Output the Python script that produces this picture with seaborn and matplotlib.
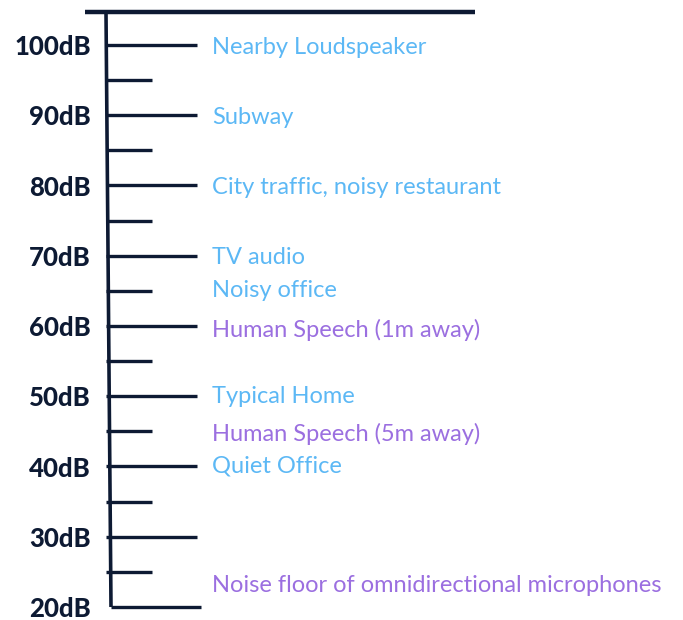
import matplotlib
matplotlib.use("Agg")
import matplotlib.pyplot as plt
import seaborn as sns

sns.set_theme(style="white")
plt.rcParams['font.family'] = ['Lato', 'DejaVu Sans']

# Data

major_db = [100, 90, 80, 70, 60, 50, 40, 30, 20]
major_labels = ["100dB", "90dB", "80dB", "70dB", "60dB", "50dB", "40dB", "30dB", "20dB"]
minor_db = [95, 85, 75, 65, 55, 45, 35, 25]

sources = ["Nearby Loudspeaker", "Subway", "City traffic, noisy restaurant", "TV audio",
           "Noisy office", "Human Speech (1m away)", "Typical Home", "Human Speech (5m away)",
           "Quiet Office", "Noise floor of omnidirectional microphones"]
source_db = [100, 90, 80, 70, 65.3, 59.8, 50.2, 45, 40.3, 23.4]
source_kind = ["env", "env", "env", "env", "env", "speech", "env", "speech", "env", "speech"]

navy = "#0d1a33"
colors = {"env": "#5cb8f5", "speech": "#9b6fe0"}

fig = plt.figure(figsize=(6.83, 6.2), dpi=100)
ax = fig.add_axes([0, 0, 1, 1])
ax.set_xlim(0, 683)
ax.set_ylim(18.15, 106.4)
ax.axis("off")

# spine and caps
ax.plot([106, 111], [104.6, 20], color=navy, lw=2.6, solid_capstyle="butt")
ax.hlines(104.7, 85, 475, color=navy, lw=3.2)

# ticks
ax.hlines(major_db[:-1], 106, 197, color=navy, lw=2.4)
ax.hlines(major_db[-1], 111, 201, color=navy, lw=2.4)
ax.hlines(minor_db, 106, 152, color=navy, lw=2.4)

for db, lab in zip(major_db, major_labels):
    ax.text(91, db - 0.3, lab, ha="right", va="center", fontsize=18.5, fontweight="black", color=navy)

for db, name, kind in zip(source_db, sources, source_kind):
    ax.text(212, db - 0.3, name, ha="left", va="center", fontsize=17, color=colors[kind])

fig.savefig("out.png", dpi=100)
